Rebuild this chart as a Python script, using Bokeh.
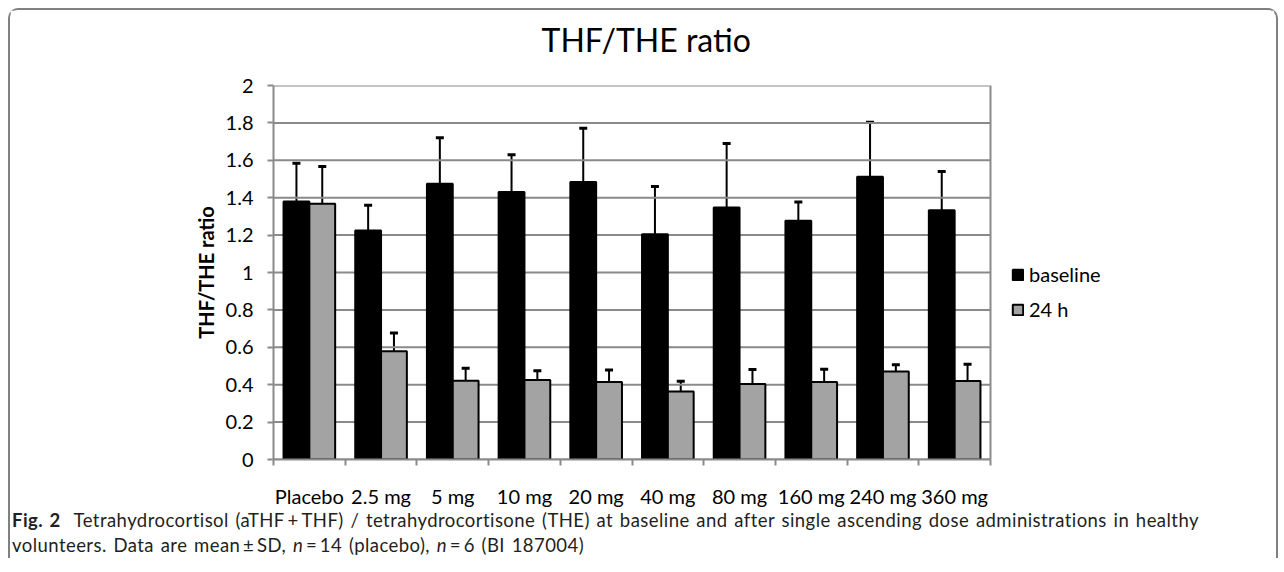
import numpy as np
from bokeh.plotting import figure
from bokeh.layouts import column
from bokeh.models import (ColumnDataSource, Whisker, TeeHead, Legend, LegendItem,
                          FixedTicker, NumeralTickFormatter, Div, Title)
from bokeh.embed import file_html
from bokeh.resources import INLINE

# ---- data ----
categories = ["Placebo", "2.5 mg", "5 mg", "10 mg", "20 mg", "40 mg", "80 mg", "160 mg", "240 mg", "360 mg"]
baseline = [1.38, 1.225, 1.475, 1.43, 1.484, 1.205, 1.347, 1.277, 1.512, 1.333]
baseline_sd = [0.204, 0.135, 0.245, 0.20, 0.288, 0.255, 0.343, 0.10, 0.292, 0.207]
h24 = [1.368, 0.579, 0.421, 0.425, 0.414, 0.363, 0.404, 0.414, 0.47, 0.42]
h24_sd = [0.199, 0.098, 0.067, 0.049, 0.065, 0.056, 0.077, 0.069, 0.037, 0.09]
series_names = ["baseline", "24 h"]
y_ticks = [0, 0.2, 0.4, 0.6, 0.8, 1.0, 1.2, 1.4, 1.6, 1.8, 2.0]
title_text = "THF/THE ratio"
y_label = "THF/THE ratio"
caption_html = ("<b>Fig.&nbsp;2</b>&nbsp;&nbsp;Tetrahydrocortisol (aTHF\u2009+\u2009THF) / tetrahydrocortisone (THE) "
                "at baseline and after single ascending dose administrations in healthy<br>"
                "volunteers. Data are mean\u2009\u00b1\u2009SD, <i>n</i>\u2009=\u200914 (placebo), "
                "<i>n</i>\u2009=\u20096 (BI 187004)")

# ---- layout ----
W = 1264
ML, MT, FW, FH = 263, 75, 717, 381     # FW: pixel width of the 10 categories
MR = 10
MB = 44
H = MT + FH + MB
FONT = "Lato"
GRID = "#8a8a8a"

n = len(categories)
x_end = n * (W - ML - MR) / FW          # frame extends right to host the legend
centers = np.arange(n) + 0.5
bw = 0.36
src = ColumnDataSource(dict(
    xb=centers - 0.18, xh=centers + 0.18,
    b=baseline, bt=np.array(baseline) + np.array(baseline_sd),
    h=h24, ht=np.array(h24) + np.array(h24_sd),
))
grid_src = ColumnDataSource(dict(y=y_ticks, x0=[0] * len(y_ticks), x1=[n] * len(y_ticks)))

p = figure(width=W, height=H, x_range=(0, x_end), y_range=(0, 2),
           output_backend="svg", toolbar_location=None,
           min_border_left=ML, min_border_right=MR, min_border_top=MT, min_border_bottom=MB)
p.background_fill_color = "white"
p.border_fill_color = "white"
p.outline_line_color = None

p.title.text = title_text
p.title.align = "left"
p.title.offset = 268
p.title.text_font = FONT
p.title.text_font_size = "32px"
p.title.text_font_style = "normal"
p.title.text_color = "black"
p.add_layout(Title(text="\u00a0", text_font_size="18px", standoff=0), "above")

# plot-area grid lines and right border
p.xgrid.grid_line_color = None
p.ygrid.grid_line_color = None
p.segment(x0="x0", x1="x1", y0="y", y1="y", source=grid_src, line_color=GRID, line_width=2)
p.segment(x0=[n], x1=[n], y0=[0], y1=[y_ticks[-1]], line_color=GRID, line_width=2)

r1 = p.vbar(x="xb", top="b", bottom=0, width=bw, source=src, fill_color="black",
            line_color="black", line_width=2)
r2 = p.vbar(x="xh", top="h", bottom=0, width=bw, source=src, fill_color="#a3a3a3",
            line_color="black", line_width=2)

for base, lo, up in (("xb", "b", "bt"), ("xh", "h", "ht")):
    w = Whisker(base=base, lower=lo, upper=up, source=src, dimension="height",
                line_color="black", line_width=2,
                upper_head=TeeHead(size=8, line_width=3, line_color="black"),
                lower_head=None)
    p.add_layout(w)

# axes
p.yaxis.ticker = FixedTicker(ticks=y_ticks)
p.yaxis.formatter = NumeralTickFormatter(format="0.[0]")
p.yaxis.axis_line_color = GRID
p.yaxis.axis_line_width = 2
p.yaxis.major_tick_line_color = GRID
p.yaxis.major_tick_line_width = 2
p.yaxis.major_tick_out = 6
p.yaxis.major_tick_in = 0
p.yaxis.minor_tick_line_color = None
p.yaxis.major_label_standoff = 14
p.yaxis.major_label_text_font = FONT
p.yaxis.major_label_text_font_size = "20px"
p.yaxis.major_label_text_color = "black"
p.yaxis.axis_label = y_label
p.yaxis.axis_label_text_font = FONT
p.yaxis.axis_label_text_font_style = "bold"
p.yaxis.axis_label_text_font_size = "20px"
p.yaxis.axis_label_text_color = "black"
p.yaxis.axis_label_standoff = 5

p.xaxis.bounds = (0, n)
p.xaxis.ticker = FixedTicker(ticks=list(centers), minor_ticks=list(range(n + 1)))
p.xaxis.major_label_overrides = {float(c): lab for c, lab in zip(centers, categories)}
p.xaxis.axis_line_color = GRID
p.xaxis.axis_line_width = 2
p.xaxis.major_tick_line_color = None
p.xaxis.major_tick_out = 0
p.xaxis.major_tick_in = 0
p.xaxis.minor_tick_line_color = GRID
p.xaxis.minor_tick_line_width = 2
p.xaxis.minor_tick_out = 6
p.xaxis.minor_tick_in = 0
p.xaxis.major_label_standoff = 18
p.xaxis.major_label_text_font = FONT
p.xaxis.major_label_text_font_size = "20px"
p.xaxis.major_label_text_color = "black"

# legend
legend = Legend(items=[LegendItem(label=series_names[0], renderers=[r1]),
                       LegendItem(label=series_names[1], renderers=[r2])],
                location=(738, 138), orientation="vertical",
                glyph_width=13, glyph_height=13, label_height=13, label_standoff=5,
                spacing=11, padding=0, margin=0,
                border_line_color=None, background_fill_alpha=0,
                label_text_font=FONT, label_text_font_size="20px", label_text_color="black")
p.add_layout(legend)

caption = Div(text=caption_html, width=W, margin=(0, 0, 0, 2),
              styles={"font-family": "Lato", "font-size": "18.5px", "line-height": "25px",
                      "letter-spacing": "0.45px", "word-spacing": "1.5px",
                      "color": "#231f20", "margin-top": "-2px"})

layout = column(p, caption,
                styles={"margin": "8px 8px 0 8px", "border": "2px solid #808080",
                        "border-bottom": "none", "border-radius": "10px 10px 0 0",
                        "background": "white"})

open("out.html", "w").write(file_html(layout, INLINE))
